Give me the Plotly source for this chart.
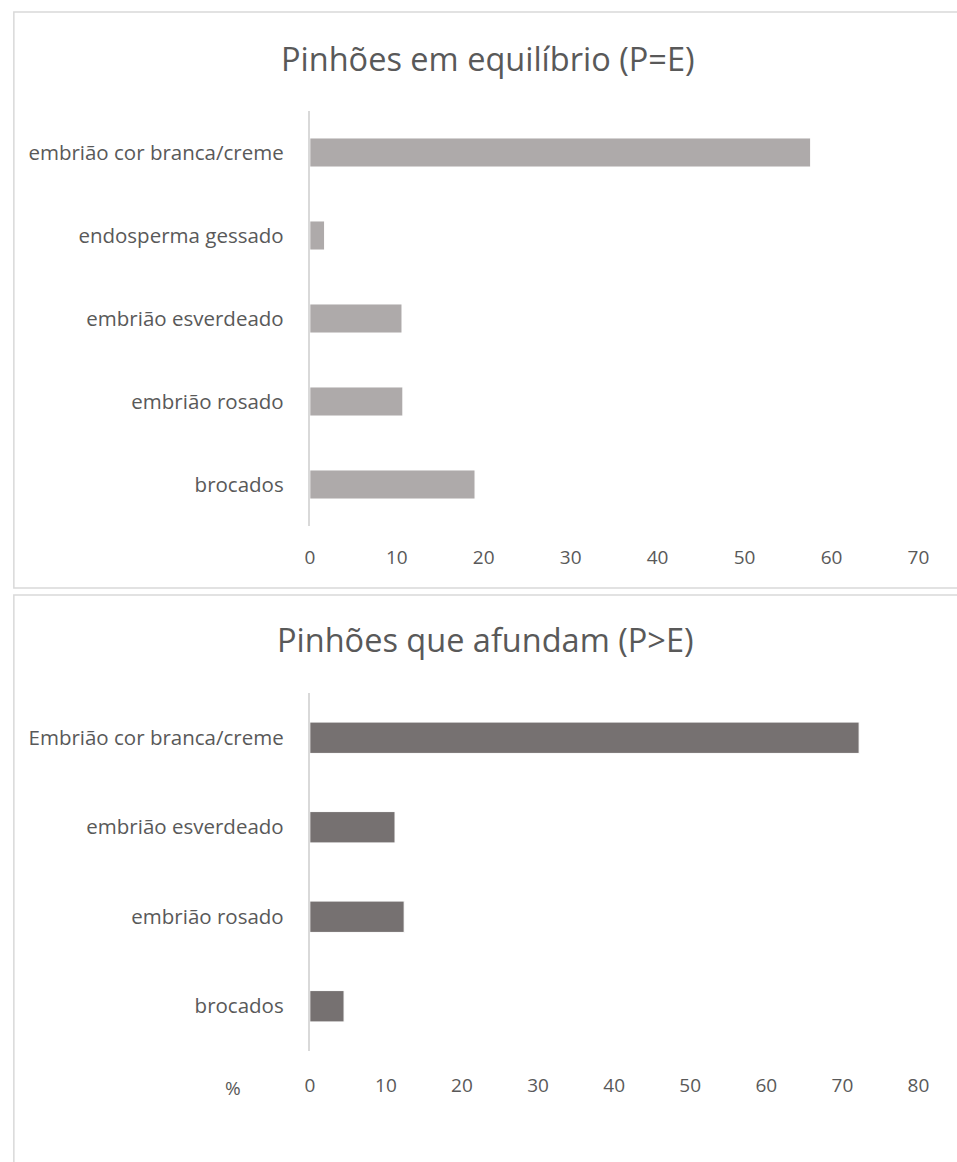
import plotly.graph_objects as go

# ---- data ----
top_title = "Pinhões em equilíbrio (P=E)"
top_categories = ["embrião cor branca/creme", "endosperma gessado", "embrião esverdeado",
                  "embrião rosado", "brocados"]
top_values = [57.6, 1.7, 10.6, 10.7, 19.0]
top_ticks = [0, 10, 20, 30, 40, 50, 60, 70]

bottom_title = "Pinhões que afundam (P>E)"
bottom_categories = ["Embrião cor branca/creme", "embrião esverdeado", "embrião rosado", "brocados"]
bottom_values = [72.2, 11.2, 12.4, 4.5]
bottom_ticks = [0, 10, 20, 30, 40, 50, 60, 70, 80]
bottom_axis_label = "%"

W, H = 957, 1162
TEXT = "#595959"
FONT = "Open Sans"

def px_x(x):
    return x / W

def px_y(y):
    return 1 - y / H

fig = go.Figure()
fig.add_trace(go.Bar(x=top_values, y=top_categories, orientation="h",
                     marker=dict(color="#AEAAAA", line=dict(color="#FFFFFF", width=1)),
                     width=0.35, xaxis="x", yaxis="y", showlegend=False))
fig.add_trace(go.Bar(x=bottom_values, y=bottom_categories, orientation="h",
                     marker=dict(color="#767171", line=dict(color="#FFFFFF", width=1)),
                     width=0.35, xaxis="x2", yaxis="y2", showlegend=False))

xdom = [px_x(310), px_x(929)]
common_x = dict(showgrid=False, zeroline=False, showline=False, ticks="",
                tickfont=dict(family=FONT, size=19, color=TEXT), ticklabelstandoff=18)
common_y = dict(showgrid=False, zeroline=False, showline=True, linecolor="#D9D9D9",
                linewidth=2, ticks="", autorange="reversed",
                tickfont=dict(family=FONT, size=20.5, color=TEXT), ticklabelstandoff=20)

fig.update_layout(
    width=W, height=H, margin=dict(l=0, r=0, t=0, b=0),
    paper_bgcolor="white", plot_bgcolor="white",
    xaxis=dict(domain=xdom, anchor="y", range=[0, 70], tickvals=top_ticks, **common_x),
    yaxis=dict(domain=[px_y(526), px_y(111)], anchor="x", **common_y),
    xaxis2=dict(domain=xdom, anchor="y2", range=[0, 80], tickvals=bottom_ticks,
                **{**common_x, "ticklabelstandoff": 21}),
    yaxis2=dict(domain=[px_y(1051), px_y(693)], anchor="x2", **common_y),
    bargap=0.65,
)

# chart borders
fig.add_shape(type="rect", xref="paper", yref="paper",
              x0=px_x(9), x1=px_x(970), y0=px_y(588), y1=px_y(12),
              line=dict(color="#D9D9D9", width=1.5), fillcolor="rgba(0,0,0,0)", layer="below")
fig.add_shape(type="rect", xref="paper", yref="paper",
              x0=px_x(9), x1=px_x(970), y0=px_y(1180), y1=px_y(595),
              line=dict(color="#D9D9D9", width=1.5), fillcolor="rgba(0,0,0,0)", layer="below")

fig.add_annotation(text=top_title, xref="paper", yref="paper", x=px_x(491), y=px_y(58),
                   showarrow=False, xanchor="center", yanchor="middle",
                   font=dict(family=FONT, size=32.5, color=TEXT))
fig.add_annotation(text=bottom_title, xref="paper", yref="paper", x=px_x(489), y=px_y(640),
                   showarrow=False, xanchor="center", yanchor="middle",
                   font=dict(family=FONT, size=32.5, color=TEXT))
fig.add_annotation(text=bottom_axis_label, xref="paper", yref="paper", x=px_x(232), y=px_y(1088),
                   showarrow=False, xanchor="center", yanchor="middle",
                   font=dict(family=FONT, size=19, color=TEXT))

fig.write_html("out.html")
